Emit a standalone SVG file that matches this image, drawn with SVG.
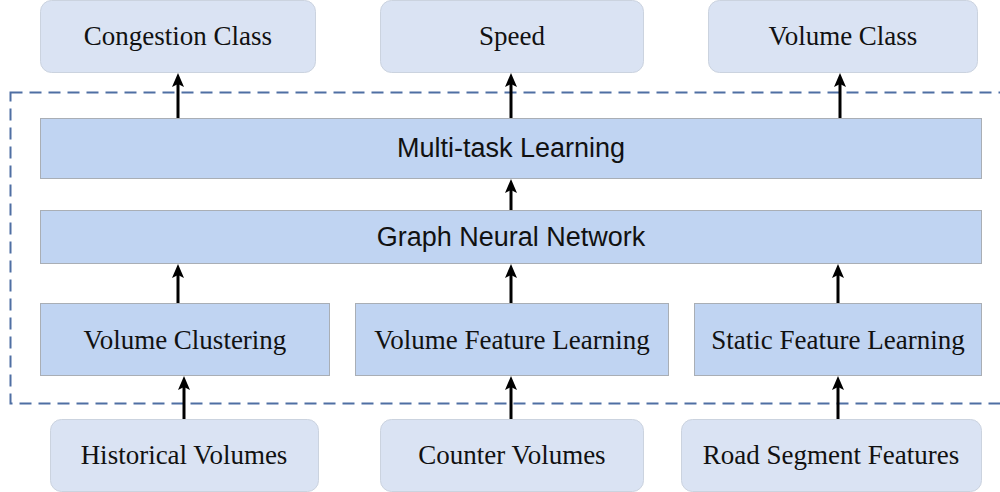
<svg xmlns="http://www.w3.org/2000/svg" width="1000" height="492" viewBox="0 0 1000 492">
<style>
.io{fill:#DAE3F3;stroke:#CBD3DF;stroke-width:1}
.mid{fill:#C0D4F2;stroke:#A9AEB5;stroke-width:1}
.serif{font-family:"Liberation Serif","Times New Roman",serif;font-size:27px;fill:#111;text-anchor:middle}
.sans{font-family:"Liberation Sans",Arial,sans-serif;font-size:27px;fill:#111;text-anchor:middle}
.conn{stroke:#000;stroke-width:3;fill:none;marker-end:url(#ah)}
</style>
<defs>
<marker id="ah" markerUnits="userSpaceOnUse" markerWidth="14" markerHeight="12" refX="4" refY="6" orient="auto" viewBox="0 0 14 12">
<path d="M0,0 L14,6 L0,12 L3,6 Z" fill="#000"/>
</marker>
</defs>
<rect width="1000" height="492" fill="#fff"/>
<rect id="boundary" x="10.5" y="92.5" width="995" height="311" fill="none" stroke="#4F6FA3" stroke-width="2" stroke-dasharray="12,7"/>
<g id="congestion"><rect class="io" x="40.5" y="0.5" width="275" height="72" rx="11"/><text class="serif" x="178" y="45">Congestion Class</text></g>
<g id="speed"><rect class="io" x="380.5" y="0.5" width="263" height="72" rx="11"/><text class="serif" x="512" y="45">Speed</text></g>
<g id="volclass"><rect class="io" x="708.5" y="0.5" width="269" height="72" rx="11"/><text class="serif" x="843" y="45">Volume Class</text></g>
<g id="mtl"><rect class="mid" x="40.5" y="118.5" width="941" height="60"/><text class="sans" x="511" y="157">Multi-task Learning</text></g>
<g id="gnn"><rect class="mid" x="40.5" y="210.5" width="941" height="53"/><text class="sans" x="511" y="246">Graph Neural Network</text></g>
<g id="vclust"><rect class="mid" x="40.5" y="303.5" width="289" height="72"/><text class="serif" x="185" y="349">Volume Clustering</text></g>
<g id="vfeat"><rect class="mid" x="355.5" y="303.5" width="313" height="72"/><text class="serif" x="512" y="349">Volume Feature Learning</text></g>
<g id="sfeat"><rect class="mid" x="694.5" y="303.5" width="287" height="72"/><text class="serif" x="838" y="349">Static Feature Learning</text></g>
<g id="hist"><rect class="io" x="50.5" y="419.5" width="268" height="72" rx="11"/><text class="serif" x="184" y="464">Historical Volumes</text></g>
<g id="counter"><rect class="io" x="380.5" y="419.5" width="263" height="72" rx="11"/><text class="serif" x="512" y="464">Counter Volumes</text></g>
<g id="road"><rect class="io" x="681.5" y="419.5" width="300" height="72" rx="11"/><text class="serif" x="831" y="464">Road Segment Features</text></g>
<g id="connectors">
<line class="conn" x1="178" y1="118" x2="178" y2="83"/>
<line class="conn" x1="511" y1="118" x2="511" y2="83"/>
<line class="conn" x1="840" y1="118" x2="840" y2="83"/>
<line class="conn" x1="511" y1="210" x2="511" y2="189"/>
<line class="conn" x1="178" y1="303" x2="178" y2="274"/>
<line class="conn" x1="511" y1="303" x2="511" y2="274"/>
<line class="conn" x1="838" y1="303" x2="838" y2="274"/>
<line class="conn" x1="184" y1="419" x2="184" y2="386"/>
<line class="conn" x1="511" y1="419" x2="511" y2="386"/>
<line class="conn" x1="838" y1="419" x2="838" y2="386"/>
</g>
</svg>
